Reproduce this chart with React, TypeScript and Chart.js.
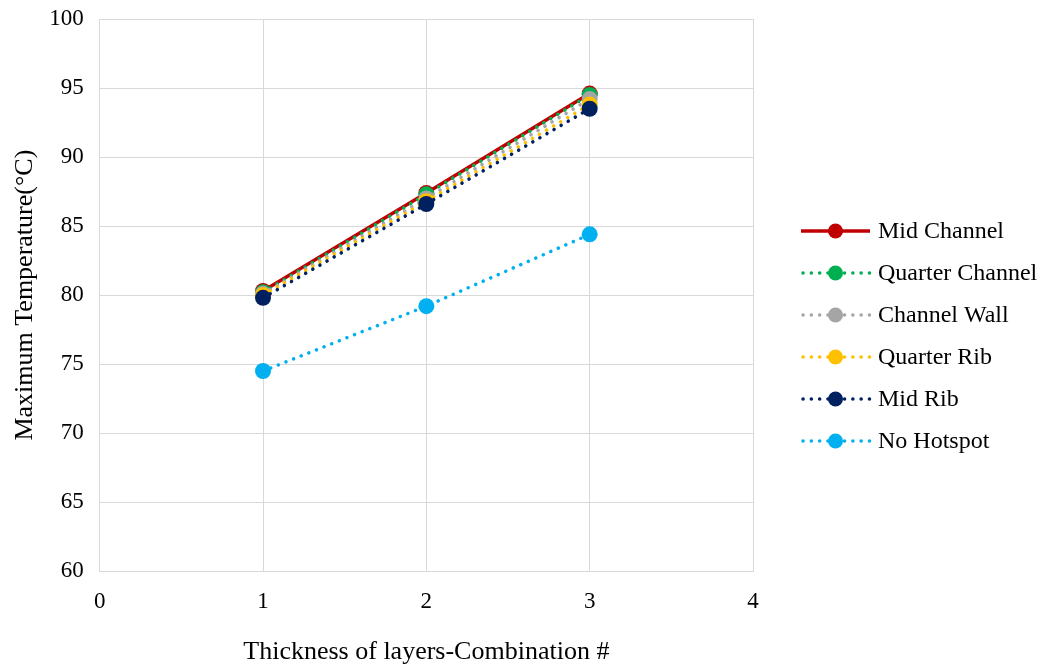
import React, { useEffect, useRef } from "react";
import { Chart, registerables } from "chart.js";

Chart.register(...registerables);

const combos = [1, 2, 3];
const midChannel = [80.3, 87.4, 94.6];
const quarterChannel = [80.2, 87.3, 94.5];
const channelWall = [80.1, 87.0, 94.2];
const quarterRib = [80.0, 86.8, 93.8];
const midRib = [79.8, 86.6, 93.5];
const noHotspot = [74.5, 79.2, 84.4];

const seriesNames = ["Mid Channel", "Quarter Channel", "Channel Wall", "Quarter Rib", "Mid Rib", "No Hotspot"];
const seriesValues = [midChannel, quarterChannel, channelWall, quarterRib, midRib, noHotspot];
const seriesColors = ["#C00000", "#00B050", "#A5A5A5", "#FFC000", "#002060", "#00B0F0"];
const seriesDashed = [false, true, true, true, true, true];

const FONT = "'Liberation Serif', 'Times New Roman', serif";
const DOTS = [0.1, 8.1];

const legendPlugin = {
  id: "customLegend",
  afterDraw(chart: any) {
    const ctx = chart.ctx;
    const x0 = 801;
    const lineLen = 69;
    const top = 231;
    const gap = 42;
    ctx.save();
    seriesNames.forEach((name, i) => {
      const y = top + i * gap;
      ctx.strokeStyle = seriesColors[i];
      ctx.lineWidth = 3.5;
      if (seriesDashed[i]) {
        ctx.setLineDash([0.1, 8.2]);
        ctx.lineCap = "round";
      } else {
        ctx.setLineDash([]);
        ctx.lineCap = "butt";
      }
      ctx.beginPath();
      ctx.moveTo(x0 + (seriesDashed[i] ? 2 : 0), y);
      ctx.lineTo(x0 + lineLen, y);
      ctx.stroke();
      ctx.setLineDash([]);
      ctx.fillStyle = seriesColors[i];
      ctx.beginPath();
      ctx.arc(x0 + lineLen / 2, y, 7.5, 0, Math.PI * 2);
      ctx.fill();
      ctx.fillStyle = "#000";
      ctx.font = `24px ${FONT}`;
      ctx.textBaseline = "middle";
      ctx.textAlign = "left";
      ctx.fillText(name, 878, y + 1);
    });
    ctx.restore();
  },
};

export default function App() {
  const ref = useRef<HTMLCanvasElement>(null);
  useEffect(() => {
    if (!ref.current) return;
    const datasets = seriesNames.map((name, i) => ({
      label: name,
      data: combos.map((c, j) => ({ x: c, y: seriesValues[i][j] })),
      borderColor: seriesColors[i],
      backgroundColor: seriesColors[i],
      pointBackgroundColor: seriesColors[i],
      pointBorderColor: seriesColors[i],
      pointRadius: 8,
      pointBorderWidth: 0,
      borderWidth: 3.5,
      borderDash: seriesDashed[i] ? DOTS : [],
      borderCapStyle: seriesDashed[i] ? "round" : "butt",
      showLine: true,
      fill: false,
      tension: 0,
      order: seriesNames.length - i,
    }));
    const chart = new Chart(ref.current, {
      type: "scatter",
      data: { datasets },
      options: {
        animation: false,
        responsive: false,
        maintainAspectRatio: false,
        layout: { padding: { left: 6, right: 290, top: 19, bottom: -4 } },
        plugins: { legend: { display: false }, tooltip: { enabled: false } },
        scales: {
          x: {
            type: "linear",
            min: 0,
            max: 4,
            ticks: { stepSize: 1, color: "#000", font: { family: FONT, size: 23 }, padding: 17 },
            grid: { color: "#D9D9D9", lineWidth: 1, drawTicks: false },
            border: { color: "#D9D9D9" },
            title: {
              display: true,
              text: "Thickness of layers-Combination #",
              color: "#000",
              font: { family: FONT, size: 26 },
              padding: { top: 4, bottom: 0 },
            },
          },
          y: {
            min: 60,
            max: 100,
            afterFit: (axis: any) => {
              axis.paddingTop = 0;
              axis.paddingBottom = 0;
            },
            ticks: { stepSize: 5, color: "#000", font: { family: FONT, size: 23 }, padding: 16 },
            grid: { color: "#D9D9D9", lineWidth: 1, drawTicks: false },
            border: { color: "#D9D9D9" },
            title: {
              display: true,
              text: "Maximum Temperature(°C)",
              color: "#000",
              font: { family: FONT, size: 26 },
              padding: { top: 4, bottom: -8 },
            },
          },
        },
      },
      plugins: [legendPlugin],
    });
    return () => chart.destroy();
  }, []);
  return (
    <div style={{ position: "fixed", left: 0, top: 0, width: 1043, height: 664, background: "#fff" }}>
      <canvas ref={ref} width={1043} height={664} style={{ display: "block" }} />
    </div>
  );
}
